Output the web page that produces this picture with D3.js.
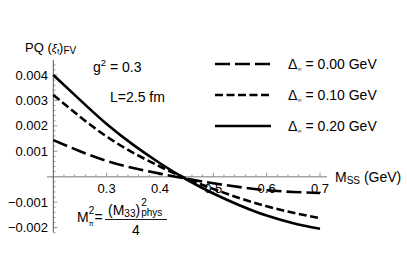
<!DOCTYPE html>
<html><head><meta charset="utf-8">
<script src="https://cdn.jsdelivr.net/npm/d3@7"></script>
<style>
html,body{margin:0;padding:0;background:#fff;}
svg{display:block;font-family:"Liberation Sans",Arial,Helvetica,sans-serif;}
</style></head>
<body><svg id="c" width="407" height="272"></svg>
<script>
const mss = [0.20,0.25,0.30,0.35,0.40,0.45,0.50,0.55,0.60,0.65,0.70];
const delta000 = [0.00144,0.00100,0.00062,0.00034,0.00012,-0.00008,-0.00026,-0.00041,-0.00053,-0.00060,-0.00064];
const delta010 = [0.00322,0.00236,0.00158,0.00094,0.00040,-0.00008,-0.00048,-0.00085,-0.00116,-0.00142,-0.00163];
const delta020 = [0.00400,0.00302,0.00207,0.00125,0.00053,-0.00011,-0.00066,-0.00113,-0.00153,-0.00183,-0.00205];
const seriesLabels = ["0.00","0.10","0.20"];
const xTicks = [0.3,0.4,0.5,0.6,0.7];
const yTicks = [0.004,0.003,0.002,0.001,-0.001,-0.002];

const svg = d3.select("#c");
const x = d3.scaleLinear().domain([0.2,0.7]).range([53.3,320]);
const y = d3.scaleLinear().domain([0,0.004]).range([176.7,75]);

const xMinor = d3.range(0.2,0.7001,0.02);
const yMinor = d3.range(-0.0022,0.00441,0.0002);
const g = svg.append("g");
g.append("line").attr("x1",x(0.188)).attr("x2",x(0.713)).attr("y1",y(0)).attr("y2",y(0))
  .attr("stroke","#a8a8a8").attr("stroke-width",1.6);
g.append("line").attr("x1",x(0.2)).attr("x2",x(0.2)).attr("y1",y(0.00459)).attr("y2",y(-0.00218))
  .attr("stroke","#444").attr("stroke-width",0.9);
const isMajX = v => xTicks.some(t=>Math.abs(t-v)<1e-6);
const isMajY = v => yTicks.some(t=>Math.abs(t-v)<1e-9);
g.selectAll(".xm").data(xMinor.filter(v=>v>0.201)).enter().append("line")
  .attr("x1",d=>x(d)).attr("x2",d=>x(d)).attr("y1",y(0)).attr("y2",d=>y(0)-(isMajX(d)?4:2.2))
  .attr("stroke","#666").attr("stroke-width",0.7);
g.selectAll(".ym").data(yMinor.filter(v=>Math.abs(v)>1e-7)).enter().append("line")
  .attr("x1",x(0.2)).attr("x2",d=>x(0.2)+(isMajY(d)?4:2.2)).attr("y1",d=>y(d)).attr("y2",d=>y(d))
  .attr("stroke","#666").attr("stroke-width",0.7);

g.selectAll(".xl").data(xTicks).enter().append("text")
  .attr("x",d=>x(d)).attr("y",193).attr("text-anchor","middle").attr("font-size",13)
  .text(d=>d.toFixed(1));
g.selectAll(".yl").data(yTicks).enter().append("text")
  .attr("x",48).attr("y",d=>y(d)+4.6).attr("text-anchor","end").attr("font-size",13)
  .text(d=>(d<0?"\u2212":"")+Math.abs(d).toFixed(3));

const data = [delta000,delta010,delta020];
const dashes = ["15,5","8,3.5",null];
const line = d3.line().x((d,i)=>x(mss[i])).y(d=>y(d)).curve(d3.curveNatural);
data.forEach((s,k)=>{
  svg.append("path").attr("d",line(s)).attr("fill","none").attr("stroke","#000")
    .attr("stroke-width",2.6).attr("stroke-dasharray",dashes[k]);
});

const legY = [64,95,126];
seriesLabels.forEach((lab,k)=>{
  svg.append("line").attr("x1",215).attr("x2",271).attr("y1",legY[k]).attr("y2",legY[k])
    .attr("stroke","#000").attr("stroke-width",2.6).attr("stroke-dasharray",dashes[k]);
  const t = svg.append("text").attr("x",288).attr("y",legY[k]+5).attr("font-size",14);
  t.append("tspan").text("\u0394");
  t.append("tspan").attr("font-size",6).attr("dy",2).text("\u221e");
  t.append("tspan").attr("dy",-2).text(" = "+lab+" GeV");
});

const t1 = svg.append("text").attr("x",93).attr("y",72).attr("font-size",14);
t1.append("tspan").text("g");
t1.append("tspan").attr("font-size",9.5).attr("dy",-6).text("2");
t1.append("tspan").attr("dy",6).text(" = 0.3");
svg.append("text").attr("x",110).attr("y",102).attr("font-size",14).text("L=2.5 fm");

const t2 = svg.append("text").attr("x",25).attr("y",52).attr("font-size",13);
t2.append("tspan").text("PQ (");
t2.append("tspan").attr("font-size",11.5).attr("font-style","italic").text("\u03be");
t2.append("tspan").attr("font-size",8).attr("dy",2).text("f");
t2.append("tspan").attr("dy",-2).text(")");
t2.append("tspan").attr("font-size",10).attr("dy",2).text("FV");

const t3 = svg.append("text").attr("x",335).attr("y",182).attr("font-size",14);
t3.append("tspan").text("M");
t3.append("tspan").attr("font-size",10).attr("dy",2).text("SS");
t3.append("tspan").attr("dy",-2).text(" (GeV)");

const f = svg.append("text").attr("x",77).attr("y",222).attr("font-size",14);
f.append("tspan").text("M");
f.append("tspan").attr("font-size",10).attr("dy",-8).text("2");
f.append("tspan").attr("font-size",7).attr("dx",-5.5).attr("dy",12).text("\u03c0");
f.append("tspan").attr("dy",-4).attr("dx",1).text("=");
svg.append("line").attr("x1",105).attr("x2",167).attr("y1",219.5).attr("y2",219.5)
  .attr("stroke","#000").attr("stroke-width",0.9);
const nu = svg.append("text").attr("x",108).attr("y",215).attr("font-size",14);
nu.append("tspan").text("(M");
nu.append("tspan").attr("font-size",10).attr("dy",2).text("33");
nu.append("tspan").attr("dy",-2).text(")");
nu.append("tspan").attr("font-size",10).attr("dy",-9).attr("dx",1).text("2");
nu.append("tspan").attr("font-size",10).attr("dy",10).attr("dx",-5.5).text("phys");
svg.append("text").attr("x",136).attr("y",235).attr("text-anchor","middle").attr("font-size",14).text("4");
</script></body></html>
